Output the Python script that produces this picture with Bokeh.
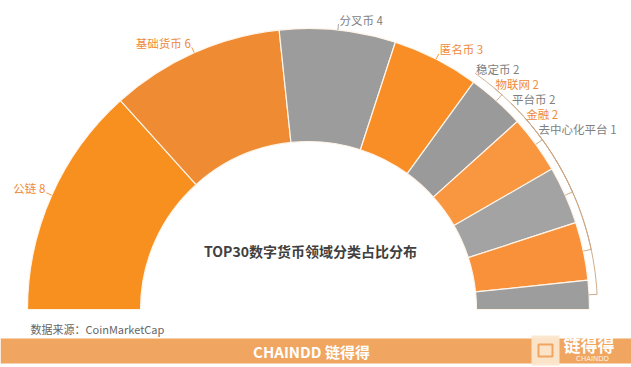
import math
from bokeh.plotting import figure
from bokeh.models import Range1d, ColumnDataSource
from bokeh.embed import file_html
from bokeh.resources import INLINE
from bokeh.core.properties import value

# ---- data ----
categories = ["公链", "基础货币", "分叉币", "匿名币", "稳定币", "物联网", "平台币", "金融", "去中心化平台"]
counts = [8, 6, 4, 3, 2, 2, 2, 2, 1]
slice_colors = ["#F7901F", "#EF8B33", "#9C9C9C", "#F98E26", "#9A9A9A",
                "#F99640", "#A3A3A3", "#F8913A", "#9D9D9D"]
label_colors = ["#EE8A3A", "#EE8A3A", "#7F7F7F", "#EE8A3A", "#7F7F7F",
                "#EE8A3A", "#7F7F7F", "#EE8A3A", "#7F7F7F"]
title_text = "TOP30数字货币领域分类占比分布"
source_text = "数据来源：CoinMarketCap"
brand_text = "CHAINDD 链得得"
logo_text = "链得得"
logo_sub = "CHAINDD"

# ---- layout (reference pixel space, y negated) ----
W, H = 631, 367
CX, CY = 308.0, -309.0
R_OUT, R_IN = 281, 168
FONT = value("Noto Sans CJK SC")

p = figure(width=W, height=H, output_backend="svg", toolbar_location=None,
           x_range=Range1d(0, W), y_range=Range1d(-H, 0),
           min_border=0, outline_line_color=None,
           background_fill_color="white", border_fill_color="white")
p.axis.visible = False
p.grid.visible = False

total = float(sum(counts))
starts, ends, mids = [], [], []
cum = 0
for c in counts:
    a0 = math.pi * (1 - cum / total)
    cum += c
    a1 = math.pi * (1 - cum / total)
    starts.append(a0)
    ends.append(a1)
    mids.append((a0 + a1) / 2)

src = ColumnDataSource(dict(x=[CX] * len(counts), y=[CY] * len(counts),
                            start=ends, end=starts, color=slice_colors))
p.annular_wedge(x="x", y="y", inner_radius=R_IN, outer_radius=R_OUT,
                start_angle="start", end_angle="end", direction="anticlock",
                fill_color="color", line_color="#FFF4E8", line_width=1.2, source=src)

# ---- labels with leader lines ----
R_LAB_BIG, R_LAB_STACK, STEP, OFF = 287, 289, 15, 4.5
lx_l, ly_l, lt_l, lc_l = [], [], [], []
lx_r, ly_r, lt_r, lc_r = [], [], [], []
line_xs, line_ys, line_cols = [], [], []
last_anchor_y = None
k = 0
for i, (cat, n) in enumerate(zip(categories, counts)):
    m = mids[i]
    ex, ey = CX + R_OUT * math.cos(m), CY + R_OUT * math.sin(m)
    if n >= 3:
        ax, ay = CX + R_LAB_BIG * math.cos(m), CY + R_LAB_BIG * math.sin(m)
        ty = ay + OFF
        last_anchor_y = ay
        k = 0
        pts_x, pts_y = [ex, ax], [ey, ay]
    else:
        k += 1
        ty = last_anchor_y - STEP * k
        ay = ty - OFF
        ax = CX + math.sqrt(R_LAB_STACK ** 2 - (ay - CY) ** 2)
        a_end = math.atan2(ay - CY, ax - CX)
        pts_x, pts_y = [ex], [ey]
        steps = 24
        for s in range(steps + 1):
            a = m + (a_end - m) * s / steps
            pts_x.append(CX + R_LAB_STACK * math.cos(a))
            pts_y.append(CY + R_LAB_STACK * math.sin(a))
    line_xs.append(pts_x)
    line_ys.append(pts_y)
    line_cols.append(slice_colors[i] if n >= 3 else "#C9A37E")
    txt = f"{cat} {n}"
    if math.cos(m) < 0:
        lx_l.append(ax - 1); ly_l.append(ty); lt_l.append(txt); lc_l.append(label_colors[i])
    else:
        lx_r.append(ax + 1); ly_r.append(ty); lt_r.append(txt); lc_r.append(label_colors[i])

p.multi_line(xs=line_xs, ys=line_ys, line_color=line_cols, line_width=1, line_alpha=0.9)
p.text(x=lx_l, y=ly_l, text=lt_l, text_color=lc_l, text_align="right",
       text_baseline="middle", text_font=FONT, text_font_size="11.5px")
p.text(x=lx_r, y=ly_r, text=lt_r, text_color=lc_r, text_align="left",
       text_baseline="middle", text_font=FONT, text_font_size="11.5px")

# ---- centre title ----
p.text(x=[CX + 2], y=[-250], text=[title_text], text_align="center", text_baseline="middle",
       text_font=FONT, text_font_size="14px", text_font_style="bold", text_color="#404040")

# ---- source ----
p.text(x=[30], y=[-328], text=[source_text], text_align="left", text_baseline="middle",
       text_font=FONT, text_font_size="11px", text_color="#666666")

# ---- footer band ----
p.quad(left=[0], right=[W], top=[-338], bottom=[-363], fill_color="#F0A660", line_color=None)
p.text(x=[CX + 3], y=[-351], text=[brand_text], text_align="center", text_baseline="middle",
       text_font=FONT, text_font_size="15px", text_font_style="bold", text_color="white")
p.quad(left=[531], right=[559], top=[-335], bottom=[-365], fill_color="#FBE6CE",
       line_color=None, fill_alpha=0.95)
p.quad(left=[538], right=[552], top=[-344], bottom=[-356], fill_color=None,
       line_color="#F0A660", line_width=2)
p.text(x=[563], y=[-344], text=[logo_text], text_align="left", text_baseline="middle",
       text_font=FONT, text_font_size="17px", text_font_style="bold", text_color="white")
p.text(x=[592], y=[-358], text=[logo_sub], text_align="center", text_baseline="middle",
       text_font=value("DejaVu Sans"), text_font_size="7px", text_color="#FDF0E0")

open("out.html", "w").write(file_html(p, INLINE))
